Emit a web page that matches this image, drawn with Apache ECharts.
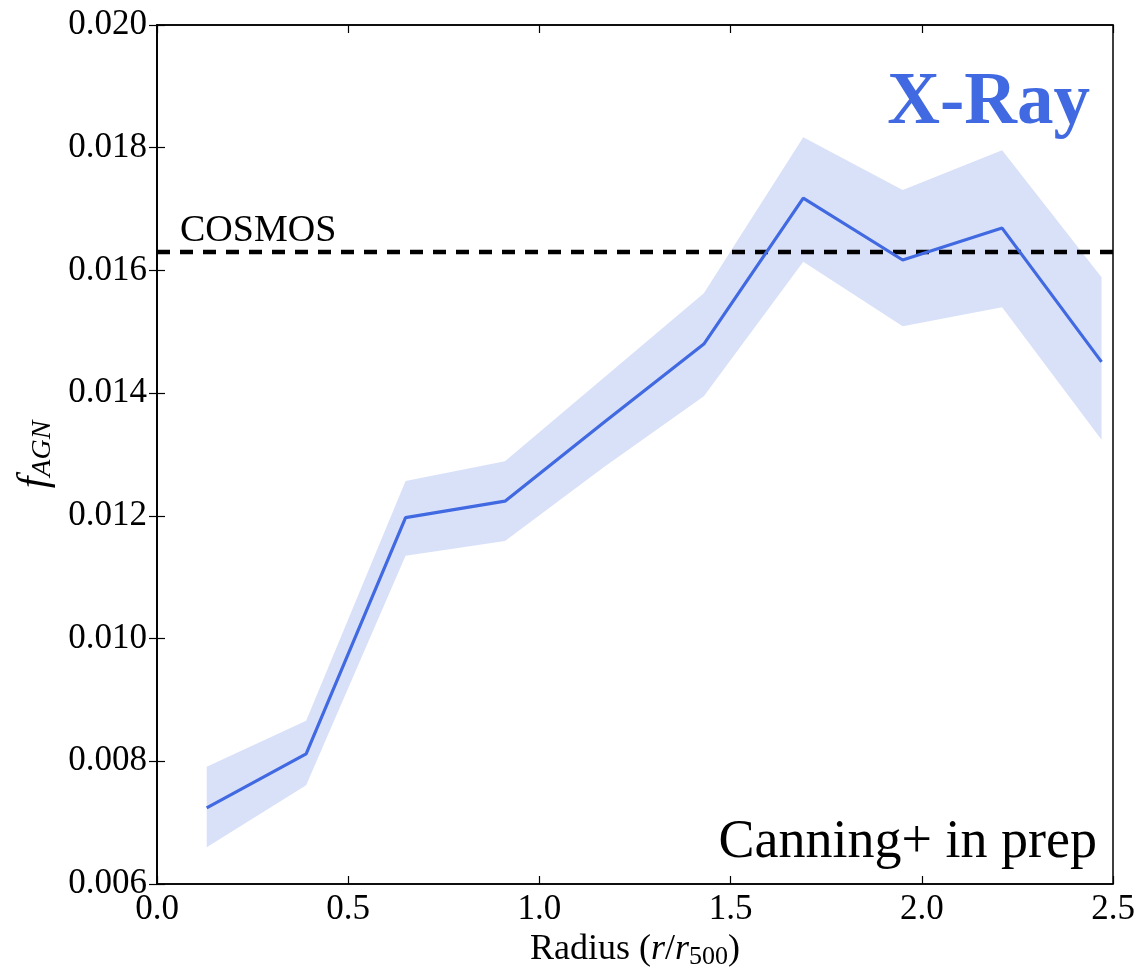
<!DOCTYPE html>
<html>
<head>
<meta charset="utf-8">
<script src="https://cdn.jsdelivr.net/npm/echarts@6/dist/echarts.min.js"></script>
<style>
  html, body { margin: 0; padding: 0; background: #fff; }
  #chart { width: 1140px; height: 975px; }
</style>
</head>
<body>
<div id="chart"></div>
<script>
// radius bins (r/r500)
var radius = [0.13, 0.39, 0.65, 0.91, 1.17, 1.43, 1.69, 1.95, 2.21, 2.47]
// f_AGN and its shaded band
var fAgn  = [0.00724, 0.00812, 0.01197, 0.01224, 0.01353, 0.01480, 0.01718, 0.01617, 0.01669, 0.01451]
var upper = [0.00791, 0.00866, 0.01257, 0.01289, 0.01426, 0.01563, 0.01817, 0.01731, 0.01796, 0.01589]
var lower = [0.00660, 0.00761, 0.01135, 0.01159, 0.01280, 0.01395, 0.01614, 0.01509, 0.01540, 0.01324]
var cosmosX = [0.0, 2.5]
var cosmosY = [0.0163, 0.0163]
var xTicks = [0.0, 0.5, 1.0, 1.5, 2.0, 2.5]
var yTicks = [0.006, 0.008, 0.010, 0.012, 0.014, 0.016, 0.018, 0.020]

var serif = 'Liberation Serif'
var blue = '#4169e1'

var chart = echarts.init(document.getElementById('chart'))

var pair = function (xs, ys) {
  return xs.map(function (x, i) { return [x, ys[i]] })
}

var tickStyle = { show: true, inside: true, length: 8, lineStyle: { color: '#000', width: 1.2 } }

var option = {
  animation: false,
  grid: {
    left: 157, right: 27, top: 25, bottom: 91,
    outerBoundsMode: 'none', containLabel: false,
    show: true, borderColor: '#000', borderWidth: 1.5
  },
  xAxis: [
    {
      type: 'value', min: xTicks[0], max: xTicks[xTicks.length - 1], interval: 0.5,
      axisLine: { show: true, onZero: false, lineStyle: { color: '#000', width: 1.5 } },
      axisTick: tickStyle,
      splitLine: { show: false },
      axisLabel: { color: '#000', fontFamily: serif, fontSize: 35, margin: 8,
        formatter: function (v) { return v.toFixed(1) } },
      name: '{n|Radius (}{i|r}{n|/}{i|r}{s|500}{n|)}',
      nameLocation: 'middle', nameGap: 44,
      nameTextStyle: {
        rich: {
          n: { fontFamily: serif, fontSize: 36, color: '#000' },
          i: { fontFamily: serif, fontStyle: 'italic', fontSize: 36, color: '#000' },
          s: { fontFamily: serif, fontSize: 26, color: '#000', padding: [14, 0, 0, 0] }
        }
      }
    },
    {
      type: 'value', position: 'top', min: xTicks[0], max: xTicks[xTicks.length - 1], interval: 0.5,
      axisLine: { show: true, lineStyle: { color: '#000', width: 1.5 } },
      axisTick: tickStyle, axisLabel: { show: false }, splitLine: { show: false }
    }
  ],
  yAxis: [
    {
      type: 'value', min: yTicks[0], max: yTicks[yTicks.length - 1], interval: 0.002,
      axisLine: { show: true, onZero: false, lineStyle: { color: '#000', width: 1.5 } },
      axisTick: tickStyle,
      splitLine: { show: false },
      axisLabel: { color: '#000', fontFamily: serif, fontSize: 35, margin: 10,
        formatter: function (v) { return v.toFixed(3) } },
      name: '{i|f}{s|AGN}',
      nameLocation: 'middle', nameGap: 100, nameRotate: 90,
      nameTextStyle: {
        rich: {
          i: { fontFamily: serif, fontStyle: 'italic', fontSize: 42, color: '#000' },
          s: { fontFamily: serif, fontStyle: 'italic', fontSize: 28, color: '#000', padding: [16, 0, 0, 0] }
        }
      }
    },
    {
      type: 'value', position: 'right', min: yTicks[0], max: yTicks[yTicks.length - 1], interval: 0.002,
      axisLine: { show: true, lineStyle: { color: '#000', width: 1.5 } },
      axisTick: tickStyle, axisLabel: { show: false }, splitLine: { show: false }
    }
  ],
  series: [
    {
      // shaded band between lower and upper
      name: 'band', type: 'custom', silent: true, z: 1,
      data: radius.map(function (x, i) { return [x, lower[i], upper[i]] }),
      renderItem: function (params, api) {
        if (params.dataIndex !== 0) return null
        var pts = []
        for (var i = 0; i < radius.length; i++) pts.push(api.coord([radius[i], upper[i]]))
        for (var j = radius.length - 1; j >= 0; j--) pts.push(api.coord([radius[j], lower[j]]))
        return { type: 'polygon', shape: { points: pts }, style: { fill: blue, opacity: 0.2 } }
      }
    },
    {
      name: 'COSMOS', type: 'line', data: pair(cosmosX, cosmosY), z: 3,
      showSymbol: false, silent: true,
      lineStyle: { color: '#000', type: [13, 10], width: 4.5 }
    },
    {
      name: 'X-Ray', type: 'line', data: pair(radius, fAgn),
      showSymbol: false, lineStyle: { color: blue, width: 3.2 }, z: 5
    }
  ],
  graphic: [
    { type: 'text', right: 1140 - 1090, top: 68, style: { text: 'X-Ray', fill: blue, font: 'bold 73px "Liberation Serif"' } },
    { type: 'text', left: 180, top: 212, style: { text: 'COSMOS', fill: '#000', font: '38px "Liberation Serif"' } },
    { type: 'text', right: 1140 - 1097, top: 816, style: { text: 'Canning+ in prep', fill: '#000', font: '54px "Liberation Serif"' } }
  ]
}
chart.setOption(option)
</script>
</body>
</html>
